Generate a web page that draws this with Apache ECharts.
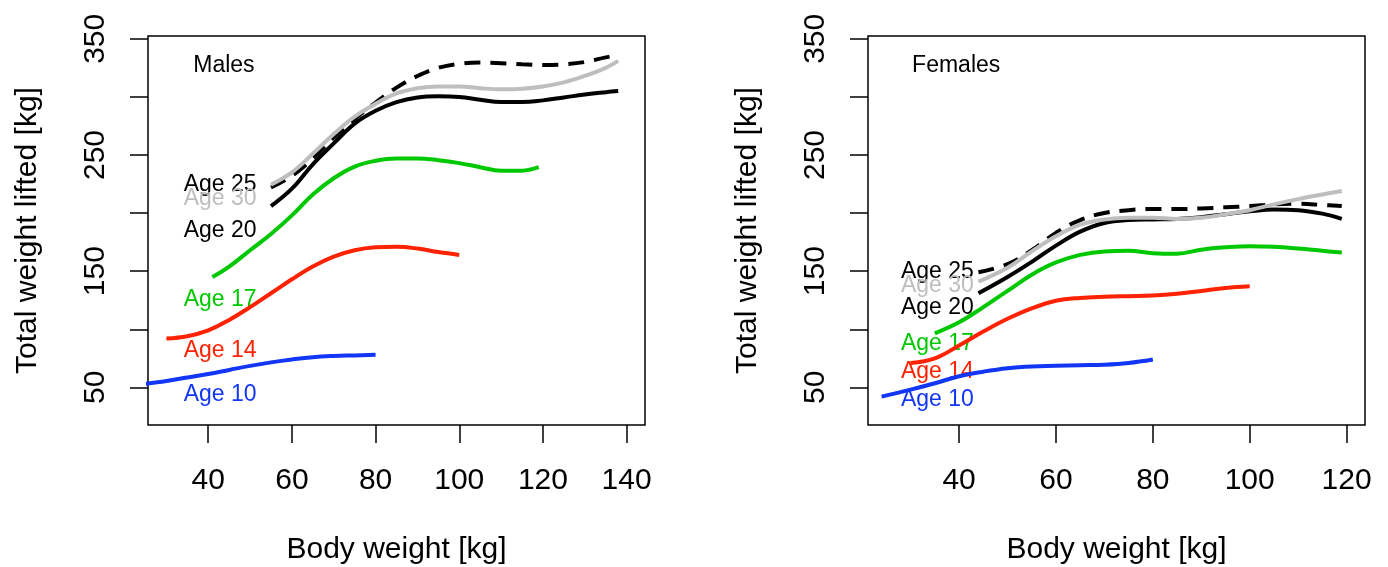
<!DOCTYPE html>
<html>
<head>
<meta charset="utf-8">
<script src="https://cdn.jsdelivr.net/npm/echarts@6/dist/echarts.min.js"></script>
<style>
  html, body { margin: 0; background: #fff; }
  #chart { width: 1388px; height: 567px; }
</style>
</head>
<body>
<div id="chart"></div>
<script>
// curves: [body weight, total lifted]
var maleAge10 = [[25,53],[30,55.5],[35,58.5],[40,61.5],[45,65],[50,68.5],[55,71.5],[60,74],[65,76],[70,77],[75,77.5],[80,78]];
var maleAge14 = [[30,92],[35,94],[40,99],[45,108],[50,119],[55,131],[60,143],[65,154],[70,162.5],[75,168],[80,170.5],[85,171],[90,169.5],[95,166.5],[100,164]];
var maleAge17 = [[41,145],[45,154],[50,168],[55,182],[60,198],[65,216],[70,230],[75,240],[80,245],[85,247],[90,247],[95,245.5],[100,243],[105,239.5],[110,236.5],[115,236.5],[119,239.5]];
var maleAge20 = [[55,206],[60,221],[65,242],[70,260],[75,277],[80,288],[85,295.5],[90,299.5],[95,300.5],[100,300],[105,297.5],[110,295.5],[115,295.5],[120,297],[125,299.5],[130,302],[135,304],[138,305]];
var maleAge25 = [[55,222],[60,232],[65,247],[70,265],[75,281],[80,295],[85,308],[90,318],[95,325],[100,328.5],[105,329.5],[110,329],[115,328],[120,327.5],[125,328],[130,330],[135,334],[138,336]];
var maleAge30 = [[55,224.5],[60,235],[65,251],[70,268],[75,283],[80,294],[85,303],[90,307.5],[95,309],[100,309],[105,307.5],[110,306.5],[115,307],[120,309],[125,312.5],[130,318],[135,325],[138,331]];

var femaleAge10 = [[24,42],[30,48],[35,53.5],[40,59.5],[45,63.5],[50,66.5],[55,68],[60,68.5],[65,69],[70,69.5],[75,71],[80,74]];
var femaleAge14 = [[30,71],[35,75],[40,86],[45,98],[50,109],[55,118],[60,124.5],[65,127],[70,128],[75,128.5],[80,129],[85,130.5],[90,133],[95,135.5],[100,137]];
var femaleAge17 = [[35,96.5],[40,106],[45,119],[50,133],[55,147],[60,157.5],[65,164],[70,167],[75,167.5],[80,165.5],[85,165],[90,168.5],[95,170.5],[100,171.5],[105,171],[110,169.5],[115,167.5],[119,166]];
var femaleAge20 = [[44,131],[50,145],[55,158],[60,172],[65,184],[70,191.5],[75,194],[80,194.5],[85,195],[90,196.5],[95,199],[100,201.5],[105,203],[110,202.5],[115,199.5],[119,195]];
var femaleAge25 = [[44,149],[50,156],[55,168],[60,183],[65,194],[70,200],[75,202.5],[80,203.5],[85,203.5],[90,204],[95,205],[100,206],[105,207.5],[110,208],[115,207],[119,206]];
var femaleAge30 = [[44,141],[50,153],[55,167],[60,180],[65,190],[70,194.5],[75,196],[80,196],[85,195],[90,196],[95,199],[100,202.5],[105,207.5],[110,212],[115,216],[119,219]];

// labels next to the curves
var ageLabels = ['Age 25', 'Age 30', 'Age 20', 'Age 17', 'Age 14', 'Age 10'];
var maleLabelPos = [[34,224.2],[34,212.8],[34,184.9],[34,125.2],[34,81.3],[34,43.4]];
var femaleLabelPos = [[27.9,149.6],[27.9,137.3],[27.9,118.9],[27.9,87.9],[27.9,63.4],[27.9,39.1]];
var panelTitles = ['Males', 'Females'];
var titlePos = [[36.3,326.7],[30.2,326.7]];

var maleXTicks = [40, 60, 80, 100, 120, 140];
var femaleXTicks = [40, 60, 80, 100, 120];
var yTicks = [50, 100, 150, 200, 250, 300, 350];
var yTickLabels = [50, 150, 250, 350];

var FONT = '"Liberation Sans", Arial, Helvetica, sans-serif';
var BLUE = '#1236f5', RED = '#ff2200', GREEN = '#00c800', GRAY = '#bebebe';
var labelColors = ['#000', GRAY, '#000', GREEN, RED, BLUE];

var chart = echarts.init(document.getElementById('chart'));

function xAxisFor(idx, lo, hi, ticks) {
    return {
        type: 'value', gridIndex: idx, min: lo, max: hi,
        name: 'Body weight [kg]', nameLocation: 'middle', nameGap: 110,
        nameTextStyle: { fontFamily: FONT, fontSize: 30, color: '#000' },
        axisLine: { show: false },
        axisTick: { show: true, length: 18, customValues: ticks, lineStyle: { color: '#000', width: 1.5 } },
        axisLabel: { customValues: ticks, margin: 41, fontFamily: FONT, fontSize: 30, color: '#000' },
        splitLine: { show: false }
    };
}

function yAxisFor(idx) {
    return {
        type: 'value', gridIndex: idx, min: 17.6, max: 352.4,
        name: 'Total weight lifted [kg]', nameLocation: 'middle', nameGap: 105, nameRotate: 90,
        nameTextStyle: { fontFamily: FONT, fontSize: 30, color: '#000' },
        axisLine: { show: false },
        axisTick: { show: true, length: 18, customValues: yTicks, lineStyle: { color: '#000', width: 1.5 } },
        axisLabel: { customValues: yTickLabels, rotate: 90, margin: 37, fontFamily: FONT, fontSize: 30, color: '#000' },
        splitLine: { show: false }
    };
}

function curve(idx, data, color, dashed) {
    return {
        type: 'line', xAxisIndex: idx, yAxisIndex: idx, data: data,
        smooth: 0.4, showSymbol: false, silent: true,
        lineStyle: { color: color, width: 4, type: dashed ? [16, 10] : 'solid' }
    };
}

function textLayer(idx, positions, texts, colors, size) {
    return {
        type: 'scatter', xAxisIndex: idx, yAxisIndex: idx, silent: true,
        symbolSize: 1, itemStyle: { color: 'rgba(0,0,0,0)' },
        data: positions.map(function (p, i) {
            return { value: p, name: texts[i], label: { color: colors[i] } };
        }),
        label: {
            show: true, position: 'right', distance: 0, opacity: 1,
            formatter: function (p) { return p.name; },
            fontFamily: FONT, fontSize: size
        }
    };
}

chart.setOption({
    animation: false,
    backgroundColor: '#fff',
    grid: [
        { left: 148, top: 36, width: 497, height: 389, show: true, borderColor: '#000', borderWidth: 1.5, outerBoundsMode: 'none' },
        { left: 868, top: 36, width: 497, height: 389, show: true, borderColor: '#000', borderWidth: 1.5, outerBoundsMode: 'none' }
    ],
    xAxis: [xAxisFor(0, 25.6, 144.4, maleXTicks), xAxisFor(1, 21.2, 123.8, femaleXTicks)],
    yAxis: [yAxisFor(0), yAxisFor(1)],
    series: [
        curve(0, maleAge10, BLUE), curve(0, maleAge14, RED), curve(0, maleAge17, GREEN),
        curve(0, maleAge20, '#000'), curve(0, maleAge25, '#000', true), curve(0, maleAge30, GRAY),
        curve(1, femaleAge10, BLUE), curve(1, femaleAge14, RED), curve(1, femaleAge17, GREEN),
        curve(1, femaleAge20, '#000'), curve(1, femaleAge25, '#000', true), curve(1, femaleAge30, GRAY),
        textLayer(0, maleLabelPos, ageLabels, labelColors, 23),
        textLayer(1, femaleLabelPos, ageLabels, labelColors, 23),
        textLayer(0, [titlePos[0]], [panelTitles[0]], ['#000'], 23),
        textLayer(1, [titlePos[1]], [panelTitles[1]], ['#000'], 23)
    ]
});
</script>
</body>
</html>
